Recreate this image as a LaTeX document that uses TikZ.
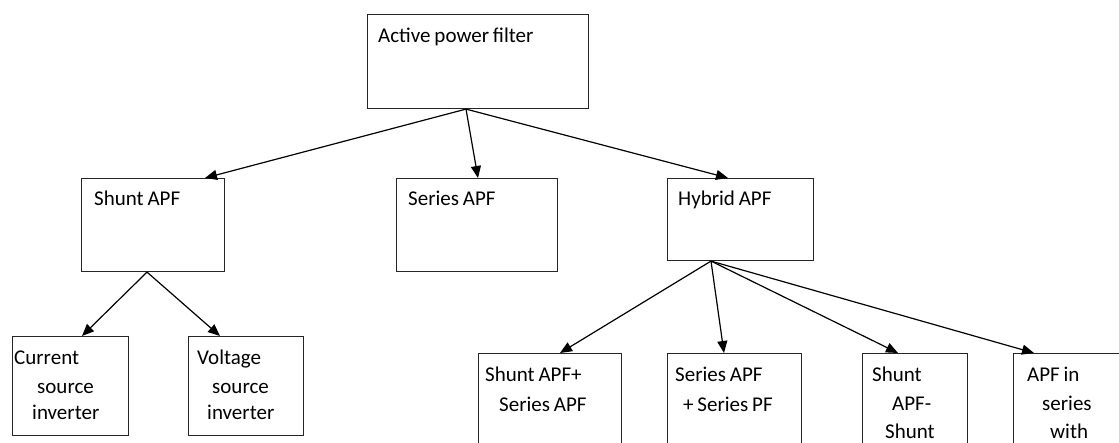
\documentclass[tikz,border=0pt]{standalone}
\usepackage{fontspec}
\setmainfont{Carlito}[WordSpace=0.8]
\usetikzlibrary{arrows.meta,calc}
\begin{document}
\begin{tikzpicture}[x=1pt,y=-1pt,
  box/.style={draw=black!85,line width=1.1pt,rectangle,anchor=north west,inner sep=0pt},
  lbl/.style={anchor=base west,inner sep=0pt,font=\fontsize{21}{27}\selectfont,text=black},
  conn/.style={line width=1.2pt,-{Triangle[length=12pt,width=10pt]}}]
\useasboundingbox (0,0) rectangle (1119,443);
\clip (0,0) rectangle (1119,443);
% boxes
\node[box,minimum width=221pt,minimum height=94pt] (top) at (367,14) {};
\node[box,minimum width=143pt,minimum height=93pt] (shunt) at (81,178) {};
\node[box,minimum width=161pt,minimum height=93pt] (series) at (396,178) {};
\node[box,minimum width=146pt,minimum height=82pt] (hybrid) at (667,178) {};
\node[box,minimum width=116pt,minimum height=99pt] (csi) at (12,336) {};
\node[box,minimum width=115pt,minimum height=99pt] (vsi) at (188,336) {};
\node[box,minimum width=143pt,minimum height=120pt] (h1) at (478,353) {};
\node[box,minimum width=134pt,minimum height=120pt] (h2) at (667,353) {};
\node[box,minimum width=105pt,minimum height=120pt] (h3) at (862,353) {};
\node[box,minimum width=140pt,minimum height=120pt] (h4) at (1013,353) {};
% labels
\node[lbl] (ttop) at (378,43) {Active power filter};
\node[lbl] (tshunt) at (94,206) {Shunt APF};
\node[lbl] (tseries) at (408,206) {Series APF};
\node[lbl] (thybrid) at (678,206) {Hybrid APF};
\node[lbl] (tcsi1) at (14,365) {Current};
\node[lbl] (tcsi2) at (37,393) {source};
\node[lbl] (tcsi3) at (32,420) {inverter};
\node[lbl] (tvsi1) at (197,365) {Voltage};
\node[lbl] (tvsi2) at (212,393) {source};
\node[lbl] (tvsi3) at (207,420) {inverter};
\node[lbl] (th11) at (485,382) {Shunt APF+};
\node[lbl] (th12) at (499,411) {Series APF};
\node[lbl] (th21) at (675,382) {Series APF};
\node[lbl] (th22) at (683,411) {+ Series PF};
\node[lbl] (th31) at (872,382) {Shunt};
\node[lbl] (th32) at (892,410) {APF-};
\node[lbl] (th33) at (885,438) {Shunt};
\node[lbl] (th41) at (1027,382) {APF in};
\node[lbl] (th42) at (1042,410) {series};
\node[lbl] (th43) at (1050,438) {with};
% connector origins
\coordinate (topout) at ($(top.south west)+(99,0)$);
\coordinate (shuntout) at ($(shunt.south west)+(66,0)$);
\coordinate (hybridout) at ($(hybrid.south west)+(44,0)$);
% connectors
\draw[conn] (topout) -- ($(shunt.north west)+(124,0)$);
\draw[conn] (topout) -- ($(series.north west)+(82,0)$);
\draw[conn] (topout) -- ($(hybrid.north west)+(61,0)$);
\draw[conn] (shuntout) -- ($(csi.north west)+(70,0)$);
\draw[conn] (shuntout) -- ($(vsi.north west)+(32,0)$);
\draw[conn] (hybridout) -- ($(h1.north west)+(82,0)$);
\draw[conn] (hybridout) -- ($(h2.north west)+(57,0)$);
\draw[conn] (hybridout) -- ($(h3.north west)+(36,0)$);
\draw[conn] (hybridout) -- ($(h4.north west)+(21,0)$);
\end{tikzpicture}
\end{document}
